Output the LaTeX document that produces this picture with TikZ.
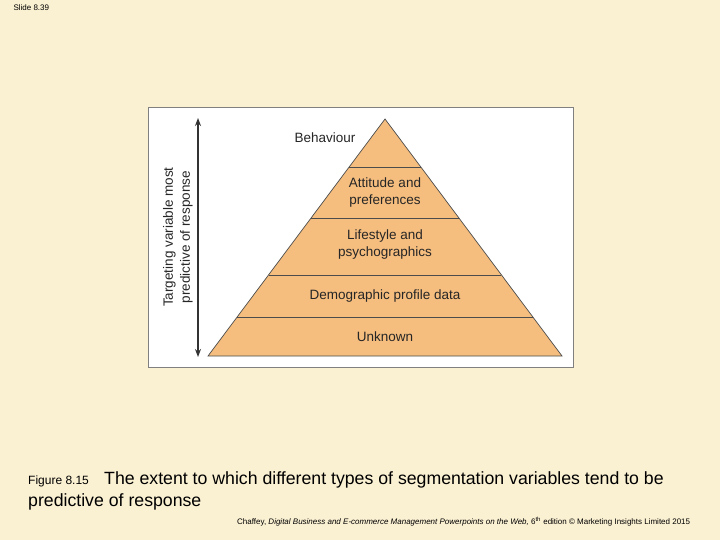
\documentclass[tikz,border=0pt]{standalone}
\usepackage{fontspec}
\setmainfont{Liberation Sans}
\usetikzlibrary{calc,arrows.meta}
\definecolor{bg}{HTML}{FAF0D2}
\definecolor{pyr}{HTML}{F5BD7E}
\tikzset{lbl/.style={font=\fontsize{13.5}{17}\selectfont, align=center, text=black!85},
 div/.style={draw=black!70, line width=0.7pt}}
\begin{document}
\begin{tikzpicture}[x=1pt,y=-1pt]
\fill[bg] (0,0) rectangle (720,540);
\useasboundingbox (0,0) rectangle (720,540);
\node[draw=black!50, fill=white, minimum width=425pt, minimum height=260pt, anchor=north west, inner sep=0pt] (box) at (148,107) {};
\coordinate (apex) at (385,119);
\coordinate (bl) at (208,356);
\coordinate (br) at (562,356);
\draw[fill=pyr, draw=black!70, line width=0.7pt] (apex) -- (bl) -- (br) -- cycle;
\foreach \t in {0.2025,0.4177,0.658,0.835}
  \draw[div] ($(apex)!\t!(bl)$) -- ($(apex)!\t!(br)$);
\node[lbl] (b) at (325,138) {Behaviour};
\node[lbl] (a) at (385,193) {Attitude and\\preferences};
\node[lbl] (l) at (385,245) {Lifestyle and\\psychographics};
\node[lbl] (d) at (385,296) {Demographic profile data};
\node[lbl] (u) at (385,337) {Unknown};
\coordinate (atop) at (198,118);
\coordinate (abot) at (198,357);
\draw[{Stealth[length=8pt,width=6pt]}-{Stealth[length=8pt,width=6pt]}, line width=1.4pt, black!80] (atop) -- (abot);
\node[lbl, rotate=90] (ax) at (178,237) {Targeting variable most\\predictive of response};
\node[font=\fontsize{8}{9}\selectfont, anchor=west] (s) at (10,8) {Slide 8.39};
\node[font=\fontsize{12}{13}\selectfont, anchor=base west, inner sep=0pt] (f) at (28,484) {Figure 8.15};
\node[font=\fontsize{17.7}{20}\selectfont, anchor=base west, inner sep=0pt] (c1) at (104,484) {The extent to which different types of segmentation variables tend to be};
\node[font=\fontsize{17.7}{20}\selectfont, anchor=base west, inner sep=0pt] (c2) at (28,506) {predictive of response};
\node[font=\fontsize{8}{9}\selectfont, anchor=base west, inner sep=0pt] (ft) at (237,524) {Chaffey, \textit{Digital Business and E-commerce Management Powerpoints on the Web,} 6\textsuperscript{th} edition © Marketing Insights Limited 2015};
\end{tikzpicture}
\end{document}
